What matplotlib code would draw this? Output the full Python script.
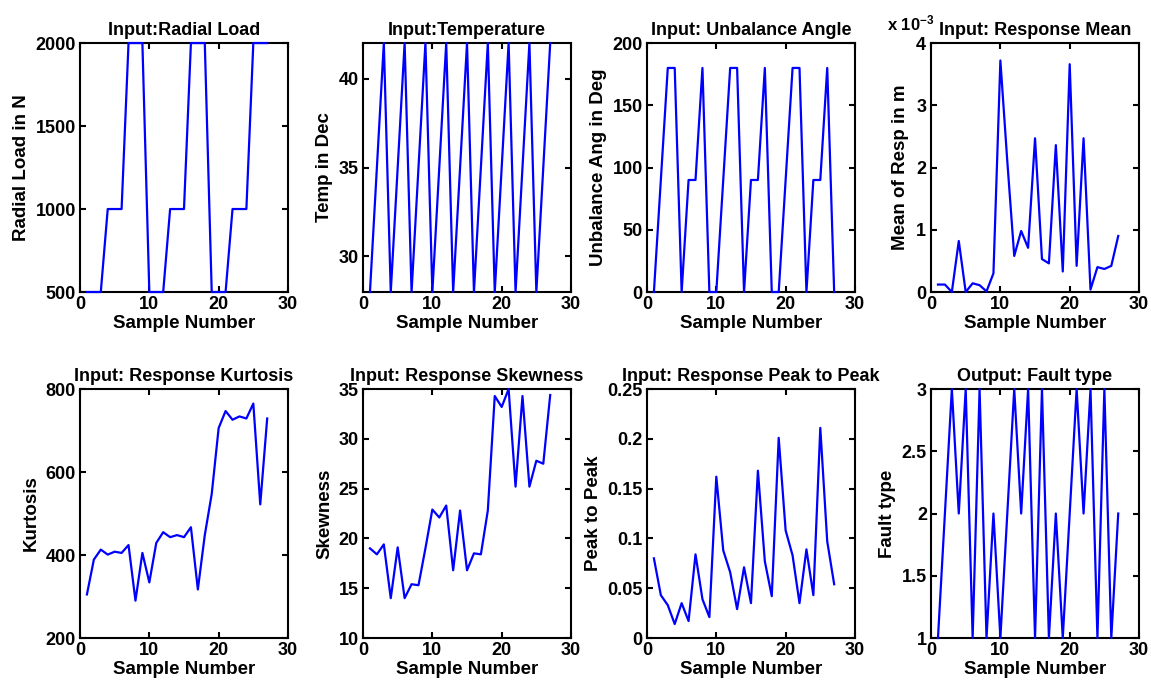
import numpy as np
import matplotlib
matplotlib.use("Agg")
import matplotlib.pyplot as plt
from matplotlib.ticker import ScalarFormatter, FormatStrFormatter, MultipleLocator

plt.rcParams['font.family'] = ['Liberation Sans', 'DejaVu Sans']
plt.rcParams['font.weight'] = 'bold'
plt.rcParams['font.size'] = 13
plt.rcParams['axes.labelweight'] = 'bold'
plt.rcParams['axes.titleweight'] = 'bold'
plt.rcParams['mathtext.default'] = 'regular'

# sample numbers 1..27
sample = list(range(1, 28))

radial_load = [500, 500, 500, 1000, 1000, 1000, 2000, 2000, 2000,
               500, 500, 500, 1000, 1000, 1000, 2000, 2000, 2000,
               500, 500, 500, 1000, 1000, 1000, 2000, 2000, 2000]
temperature = [28, 35, 42, 28, 35, 42, 28, 35, 42,
               28, 35, 42, 28, 35, 42, 28, 35, 42,
               28, 35, 42, 28, 35, 42, 28, 35, 42]
unbalance = [0, 90, 180, 180, 0, 90, 90, 180, 0,
             0, 90, 180, 180, 0, 90, 90, 180, 0,
             0, 90, 180, 180, 0, 90, 90, 180, 0]
# response mean, in units of 1e-3 m
resp_mean_mm = [0.12, 0.12, 0.0, 0.82, 0.0, 0.14, 0.11, 0.01, 0.3,
                3.72, 2.1, 0.58, 0.98, 0.71, 2.47, 0.53, 0.46, 2.36,
                0.33, 3.66, 0.42, 2.47, 0.04, 0.4, 0.37, 0.42, 0.9]
kurtosis = [305, 389, 413, 401, 408, 405, 424, 290, 405,
            334, 429, 455, 443, 448, 443, 467, 317, 448,
            547, 706, 747, 726, 734, 729, 765, 522, 729]
skewness = [19.0, 18.4, 19.4, 14.0, 19.1, 14.0, 15.4, 15.3, 19.0,
            22.9, 22.1, 23.3, 16.8, 22.8, 16.8, 18.5, 18.4, 22.8,
            34.3, 33.2, 35.0, 25.2, 34.3, 25.2, 27.8, 27.5, 34.4]
peak_to_peak = [0.080, 0.043, 0.033, 0.014, 0.035, 0.017, 0.084, 0.039, 0.021,
                0.162, 0.088, 0.066, 0.029, 0.071, 0.035, 0.168, 0.077, 0.042,
                0.201, 0.108, 0.083, 0.035, 0.089, 0.043, 0.211, 0.097, 0.054]
fault_type = [1, 2, 3, 2, 3, 1, 3, 1, 2,
              1, 2, 3, 2, 3, 1, 3, 1, 2,
              1, 2, 3, 2, 3, 1, 3, 1, 2]

titles = ["Input:Radial Load", "Input:Temperature", "Input: Unbalance Angle",
          "Input: Response Mean", "Input: Response Kurtosis",
          "Input: Response Skewness", "Input: Response Peak to Peak",
          "Output: Fault type"]
ylabels = ["Radial Load in N", "Temp in Dec", "Unbalance Ang in Deg",
           "Mean of Resp in m", "Kurtosis", "Skewness", "Peak to Peak",
           "Fault type"]
ylims = [(500, 2000), (28, 42), (0, 200), (0, 4e-3),
         (200, 800), (10, 35), (0, 0.25), (1, 3)]
ysteps = [500, 5, 50, 1e-3, 200, 5, 0.05, 0.5]

series = [radial_load, temperature, unbalance,
          np.array(resp_mean_mm) * 1e-3,
          kurtosis, skewness, peak_to_peak, fault_type]

fig = plt.figure(figsize=(11.51, 6.91), dpi=100)
lefts = [0.0695, 0.3154, 0.5621, 0.8089]
bottoms = [0.5774, 0.0767]
w = 0.1807
h = 0.3603

for i in range(8):
    r = i // 4
    c = i % 4
    ax = fig.add_axes([lefts[c], bottoms[r], w, h])
    ax.plot(sample, series[i], color=(0, 0, 1), linewidth=1.6,
            clip_on=False, zorder=3)
    ax.set_xlim(0, 30)
    ax.set_ylim(*ylims[i])
    ax.xaxis.set_major_locator(MultipleLocator(10))
    ax.yaxis.set_major_locator(MultipleLocator(ysteps[i]))
    if i == 3:
        fmt = ScalarFormatter(useMathText=True)
        fmt.set_powerlimits((-2, 2))
        ax.yaxis.set_major_formatter(fmt)
        # own exponent label, placed between the "4" tick and the title
        ax.yaxis.get_offset_text().set_visible(False)
        ax.text(0.015, 1.04, r'x 10$^{-3}$', transform=ax.transAxes,
                ha='right', va='bottom', fontsize=12, fontweight='bold')
    else:
        ax.yaxis.set_major_formatter(FormatStrFormatter('%g'))
    ax.set_title(titles[i], fontsize=13, y=1.0, pad=6)
    ax.set_xlabel("Sample Number", fontsize=13.5, labelpad=1)
    ax.set_ylabel(ylabels[i], fontsize=13.5)
    ax.tick_params(direction='in', top=True, right=True, length=4, width=1.5,
                   labelsize=13, pad=3)
    for sp in ax.spines.values():
        sp.set_linewidth(1.5)

fig.savefig("out.png", dpi=100)
